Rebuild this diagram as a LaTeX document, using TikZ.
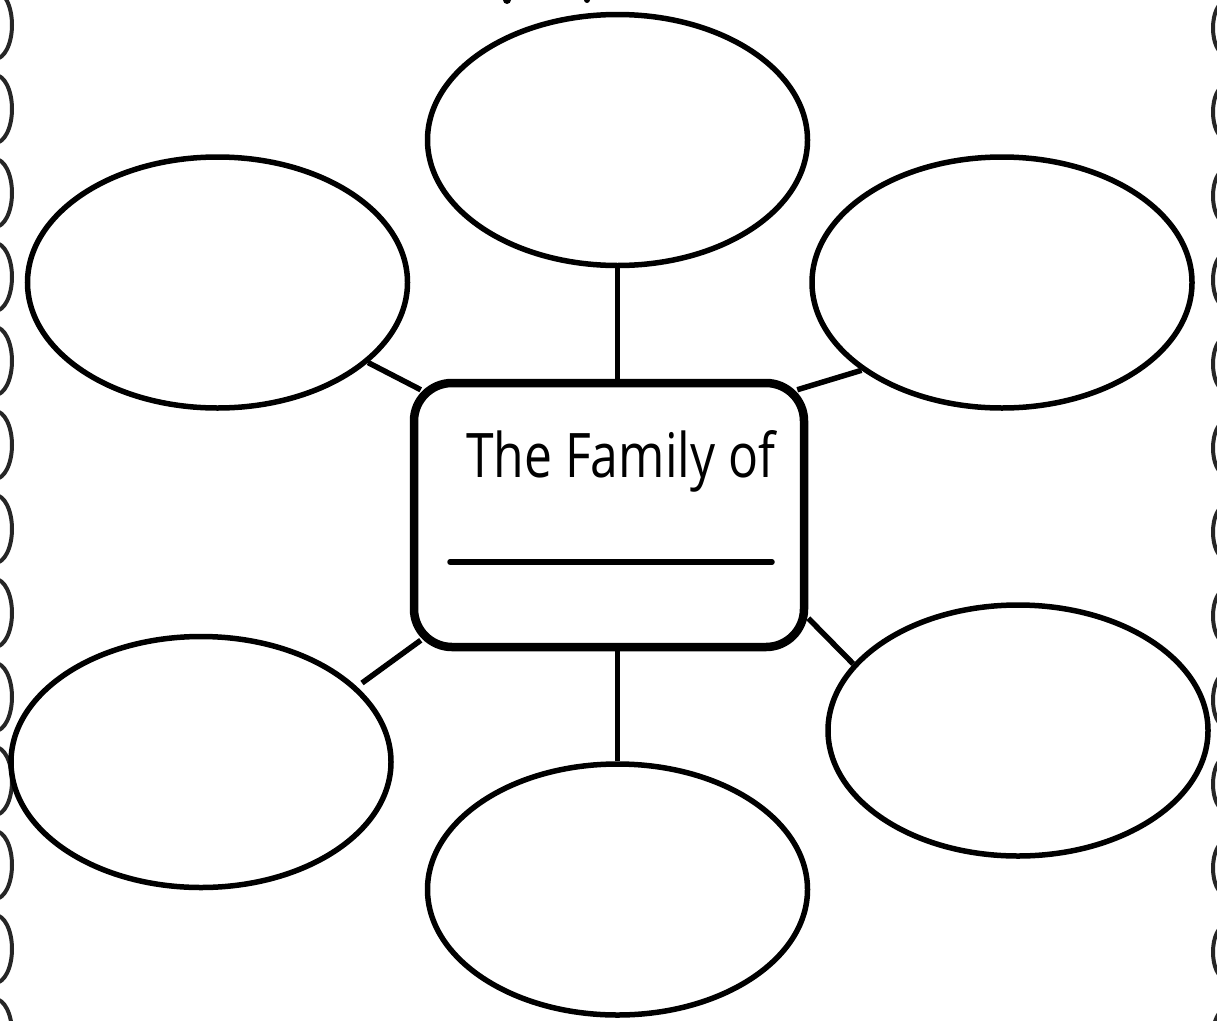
\documentclass[tikz,border=0pt]{standalone}
\usepackage{fontspec}
\newfontfamily\titlefont{Open Sans}
\usetikzlibrary{shapes.geometric,calc}
\tikzset{
  bubble/.style={draw=black, line width=5.5pt, ellipse, minimum width=380pt, minimum height=251pt, inner sep=0pt},
  hub/.style={draw=black, line width=8.5pt, rectangle, rounded corners=38pt, minimum width=390pt, minimum height=264pt, inner sep=0pt},
  link/.style={draw=black, line width=5.5pt},
  scallop/.style={draw=black!85, line width=4pt},
  blank/.style={draw=black, line width=5.5pt, line cap=round}
}
\begin{document}
\begin{tikzpicture}[x=1pt,y=-1pt]
\useasboundingbox (0,0) rectangle (1217,1020);
\fill[white] (0,0) rectangle (1217,1020);
% scalloped borders
\begin{scope}
\clip (0,0) rectangle (1217,1020);
\foreach \k in {0,...,12}{
  \draw[scallop] (-5,{25+84*\k}) ellipse [x radius=17, y radius=34];
  \draw[scallop] (1225,{28+84*\k}) ellipse [x radius=12, y radius=26];
}
\fill[black] (507,0) circle [radius=4];
\fill[black] (587,0) circle [radius=3];
\end{scope}
% bubbles
\node[bubble] (top) at (617.5,140) {};
\node[bubble] (ul) at (217.5,282.5) {};
\node[bubble] (ur) at (1002,282.5) {};
\node[bubble] (ll) at (201,762) {};
\node[bubble] (bot) at (617.5,889.5) {};
\node[bubble] (lr) at (1018,730.5) {};
% hub
\node[hub] (ctr) at (609,515) {};
\node[anchor=base west, inner sep=0pt] (title) at (466,477) {\resizebox{309pt}{47pt}{\titlefont The Family of}};
\draw[blank] ($(ctr.center)+(-159,47)$) -- ($(ctr.center)+(163,47)$);
% connectors
\coordinate (llend) at (362,683);
\draw[link] (top.south) -- (top.south |- ctr.north);
\draw[link] (bot.north |- ctr.south) -- (bot.north);
\draw[link] (ul.-28.5) -- ($(ctr.north west)+(11,11)$);
\draw[link] (ur.-148) -- ($(ctr.north east)+(-11,11)$);
\draw[link] (llend) -- ($(ctr.south west)+(11,-11)$);
\draw[link] (lr.158) -- ($(ctr.south east)+(0,-33)$);
\end{tikzpicture}
\end{document}
